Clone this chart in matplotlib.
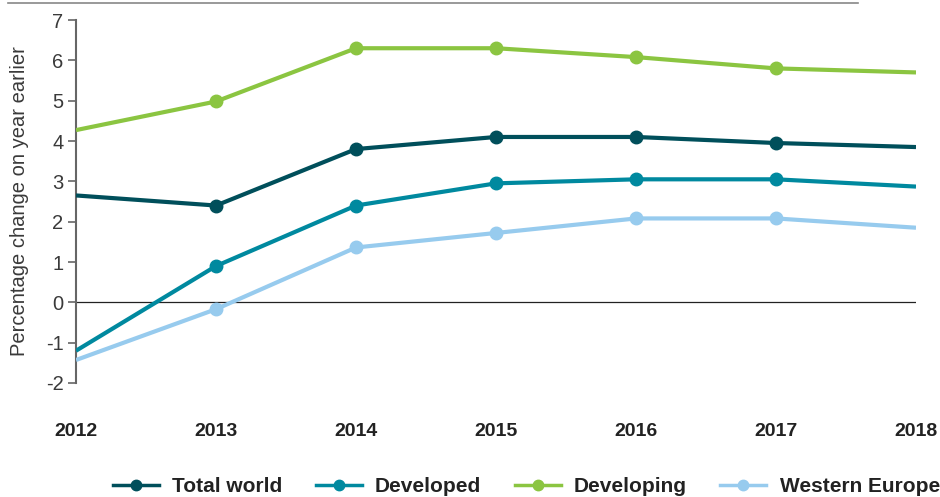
import matplotlib
matplotlib.use("Agg")
import matplotlib.pyplot as plt
from matplotlib.lines import Line2D

years = [2012, 2013, 2014, 2015, 2016, 2017, 2018]
total_world = [2.65, 2.4, 3.8, 4.1, 4.1, 3.95, 3.85]
developed = [-1.2, 0.9, 2.4, 2.95, 3.05, 3.05, 2.87]
developing = [4.27, 4.98, 6.3, 6.3, 6.08, 5.8, 5.7]
western_europe = [-1.43, -0.17, 1.36, 1.72, 2.08, 2.08, 1.85]

series = [
    ("Total world", total_world, "#004f5b"),
    ("Developed", developed, "#00899f"),
    ("Developing", developing, "#8bc541"),
    ("Western Europe", western_europe, "#97cbee"),
]

plt.rcParams["font.family"] = ["Liberation Sans", "DejaVu Sans"]
plt.rcParams["axes.unicode_minus"] = False

fig = plt.figure(figsize=(9.4, 4.97), dpi=100)
ax = fig.add_axes([76 / 940, 1 - 383 / 497, 840 / 940, 363 / 497])

handles = []
for name, vals, col in series:
    ax.plot(years, vals, color=col, lw=3, solid_capstyle="butt", zorder=3)
    # markers only on the interior years
    ax.plot(years[1:-1], vals[1:-1], ls="none", marker="o", ms=9,
            color=col, zorder=4)
    handles.append(Line2D([], [], color=col, lw=2.5, marker="o", ms=7.5))

ax.axhline(0, color="#222222", lw=0.9, zorder=2)

ax.set_xlim(2012, 2018)
ax.set_ylim(-2, 7)
ax.set_yticks(range(-2, 8))
ax.set_xticks(years)
ax.set_xticklabels([str(y) for y in years], fontweight="bold", fontsize=14,
                   color="#222222")
ax.tick_params(axis="x", length=0, pad=29)
ax.tick_params(axis="y", length=6, width=1.2, color="#666666", labelsize=14.5,
               labelcolor="#3a3a3a", pad=3)
for s in ["top", "right", "bottom"]:
    ax.spines[s].set_visible(False)
ax.spines["left"].set_color("#666666")
ax.spines["left"].set_linewidth(1.5)
ax.set_ylabel("Percentage change on year earlier", fontsize=14.5,
              color="#3a3a3a", labelpad=12)

# thin rule across the top of the figure
fig.add_artist(Line2D([8 / 940, 858 / 940], [1 - 3 / 497, 1 - 3 / 497],
                      color="#888888", lw=1.2))

leg = fig.legend(handles, [s[0] for s in series], loc="center left",
                 bbox_to_anchor=(94 / 940, 1 - 487 / 497), ncol=4,
                 frameon=False, handlelength=2.2, handletextpad=0.65,
                 columnspacing=1.6,
                 prop={"weight": "bold", "size": 15})
for t in leg.get_texts():
    t.set_color("#222222")

fig.savefig("out.png", dpi=100)
